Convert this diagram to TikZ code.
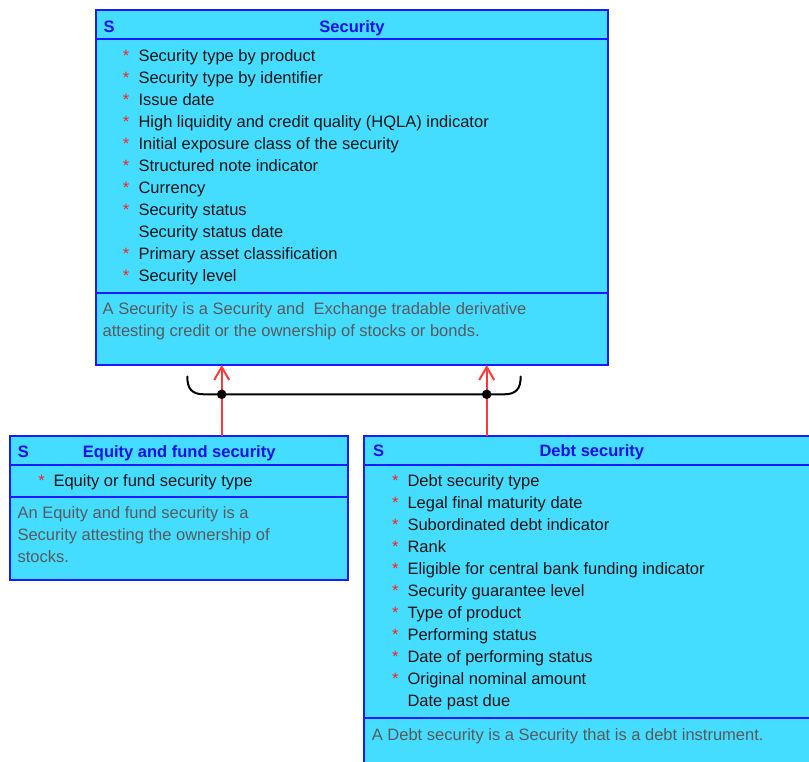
\documentclass[tikz,border=0pt]{standalone}
\usepackage{fontspec}
\setmainfont{Liberation Sans}
\usetikzlibrary{arrows.meta}
\definecolor{boxfill}{HTML}{44DDFF}
\definecolor{boxline}{HTML}{1A1AFF}
\definecolor{titleblue}{HTML}{1010E8}
\definecolor{desctext}{HTML}{5A5A5A}
\definecolor{attrtext}{HTML}{151515}
\definecolor{starred}{HTML}{FF2020}
\definecolor{inhred}{HTML}{FF3838}
\begin{document}
\begin{tikzpicture}[x=1pt,y=-1pt,
  classbox/.style={draw=boxline, fill=boxfill, line width=2pt, anchor=north west, inner sep=0pt, outer sep=0pt},
  sepline/.style={draw=boxline, line width=2pt},
  txt/.style={anchor=base west, inner sep=0pt, font=\fontsize{16.5}{22}\selectfont},
  attr/.style={txt, text=attrtext},
  desc/.style={txt, text=desctext},
  stereo/.style={txt, text=titleblue, font=\fontsize{16.5}{22}\selectfont\bfseries},
  ctitle/.style={anchor=base, inner sep=0pt, text=titleblue, font=\fontsize{16.5}{22}\selectfont\bfseries},
  reqstar/.style={anchor=base, inner sep=0pt, text=starred, font=\fontsize{16.5}{22}\selectfont},
  inh/.style={draw=inhred, line width=2pt, -{Straight Barb[length=13pt,width=15pt,line width=2pt]}},
  grp/.style={draw=black, line width=2pt, line cap=round},
  dot/.style={circle, fill=black, inner sep=0pt, minimum size=9.5pt}
]
\useasboundingbox (0,0) rectangle (809,762);

% ---------- Security ----------
\node[classbox, minimum width=512, minimum height=355] (secbox) at (95.5,10) {};
\draw[sepline] (95.5,39.5) -- (607.5,39.5);
\draw[sepline] (95.5,292.7) -- (607.5,292.7);
\node[stereo] (secS) at (103.3,32.3) {S};
\node[ctitle] (sectitle) at (352,32.3) {Security};
\foreach \t [count=\i from 0] in {Security type by product, Security type by identifier, Issue date, High liquidity and credit quality (HQLA) indicator, Initial exposure class of the security, Structured note indicator, Currency, Security status}{
  \node[reqstar] (secstar\i) at (126,62+22*\i) {*};
  \node[attr] (secattr\i) at (138.3,62+22*\i) {\t};
}
\node[attr] (secattr8) at (138.3,238) {Security status date};
\node[reqstar] (secstar9) at (126,260) {*};
\node[attr] (secattr9) at (138.3,260) {Primary asset classification};
\node[reqstar] (secstar10) at (126,282) {*};
\node[attr] (secattr10) at (138.3,282) {Security level};
\node[desc] (secdesc1) at (102.5,314.7) {A Security is a Security and\ \ Exchange tradable derivative};
\node[desc] (secdesc2) at (102.5,336.7) {attesting credit or the ownership of stocks or bonds.};

% ---------- Equity and fund security ----------
\node[classbox, minimum width=337.5, minimum height=144] (eqbox) at (10,436) {};
\draw[sepline] (10,464.7) -- (347.5,464.7);
\draw[sepline] (10,497.3) -- (347.5,497.3);
\node[stereo] (eqS) at (17.7,457.3) {S};
\node[ctitle] (eqtitle) at (179.2,457.3) {Equity and fund security};
\node[reqstar] (eqstar0) at (41.5,486.7) {*};
\node[attr] (eqattr0) at (53.3,486.7) {Equity or fund security type};
\node[desc] (eqdesc1) at (17.3,518.7) {An Equity and fund security is a};
\node[desc] (eqdesc2) at (17.3,540.7) {Security attesting the ownership of};
\node[desc] (eqdesc3) at (17.3,562.7) {stocks.};

% ---------- Debt security ----------
\node[classbox, minimum width=470, minimum height=360] (debtbox) at (363.5,436) {};
\draw[sepline] (363.5,464.5) -- (830,464.5);
\draw[sepline] (363.5,718.3) -- (830,718.3);
\node[stereo] (debtS) at (373,456.7) {S};
\node[ctitle] (debttitle) at (591.8,456.7) {Debt security};
\foreach \t [count=\i from 0] in {Debt security type, Legal final maturity date, Subordinated debt indicator, Rank, Eligible for central bank funding indicator, Security guarantee level, Type of product, Performing status, Date of performing status, Original nominal amount}{
  \node[reqstar] (debtstar\i) at (395.3,486+22*\i) {*};
  \node[attr] (debtattr\i) at (407.3,486+22*\i) {\t};
}
\node[attr] (debtattr10) at (407.3,706) {Date past due};
\node[desc] (debtdesc1) at (371.7,740) {A Debt security is a Security that is a debt instrument.};

% ---------- Generalization ----------
\coordinate (gl) at (221.7,436);
\coordinate (gr) at (486.7,436);
\draw[inh] (eqbox.north -| gl) -- (secbox.south -| gl);
\draw[inh] (debtbox.north -| gr) -- (secbox.south -| gr);
\coordinate (bl) at (187.3,376.5);
\coordinate (br) at (520.7,376.5);
\draw[grp] (bl) .. controls (187.3,389) and (192,394.3) .. (204,394.3) -- (504,394.3) .. controls (516,394.3) and (520.7,389) .. (br);
\node[dot] (dl) at (221.7,394.3) {};
\node[dot] (dr) at (486.7,394.3) {};
\end{tikzpicture}
\end{document}
